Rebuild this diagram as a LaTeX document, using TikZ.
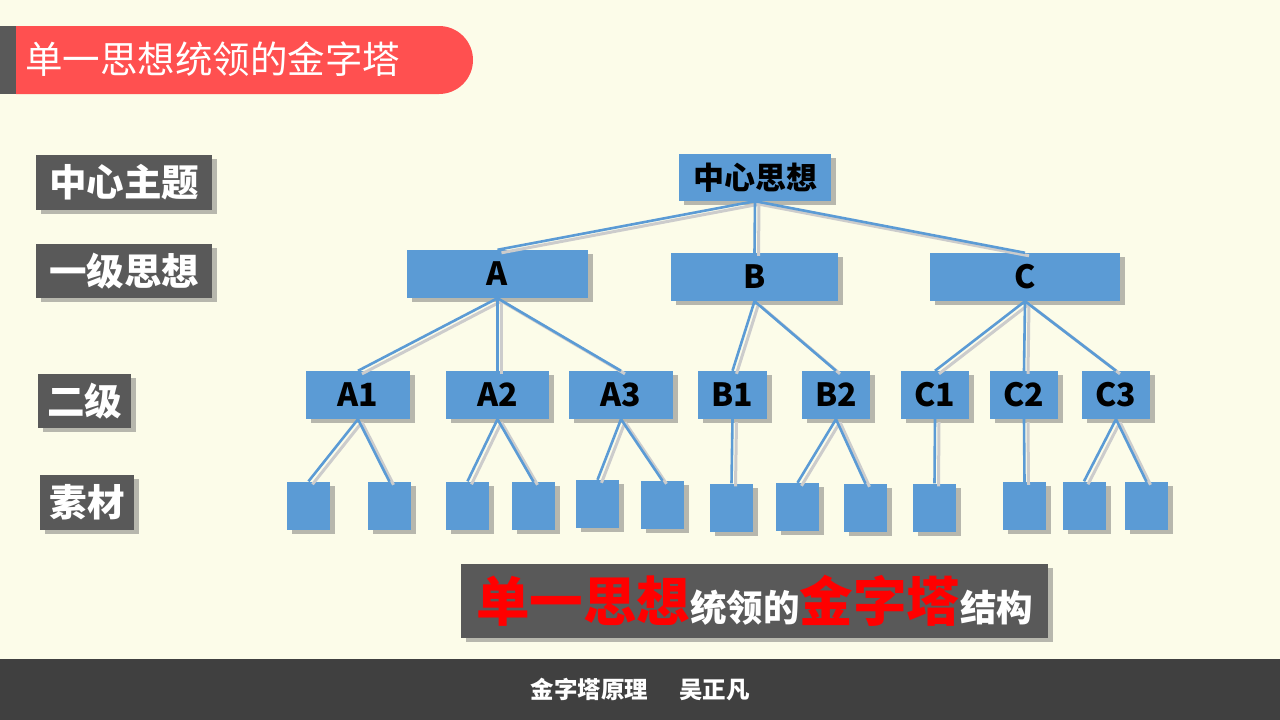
\documentclass[tikz,border=0pt]{standalone}
\usepackage{fontspec}
\setmainfont{Noto Sans CJK SC}
\usetikzlibrary{shadows}

\definecolor{paper}{HTML}{FCFCE9}
\definecolor{bannerred}{HTML}{FF5050}
\definecolor{labelgrey}{HTML}{595959}
\definecolor{footgrey}{HTML}{404040}
\definecolor{ideablue}{HTML}{5B9BD5}
\definecolor{hotred}{HTML}{FF0000}

\newcommand{\pxfont}[1]{\fontsize{#1}{#1}\selectfont}

\begin{document}
\begin{tikzpicture}[
    x=1pt, y=-1pt,                          % <- one unit = one pixel, y runs down
    boxshadow/.style={drop shadow={shadow xshift=5pt, shadow yshift=-4pt, fill=black!55, opacity=0.5}},
    tag/.style={fill=labelgrey, text=white, font=\pxfont{37.5}\bfseries, inner sep=0pt, boxshadow},
    idea/.style={fill=ideablue, text=black, font=\pxfont{32}\bfseries, inner sep=0pt, minimum height=48pt, boxshadow},
    leaf/.style={fill=ideablue, minimum width=43pt, minimum height=48pt, inner sep=0pt, boxshadow},
    link/.style={draw=ideablue, line width=2.6pt,
      preaction={draw=black!20, line width=3pt, transform canvas={xshift=4pt, yshift=-3pt}}},
  ]

  % ---------- page, banner, footer ----------
  \fill[paper] (0,0) rectangle (1280,720);
  \useasboundingbox (0,0) rectangle (1280,720);
  \fill[bannerred] (16,26) -- (439,26) arc[start angle=-90, end angle=90, radius=34] -- (16,94) -- cycle;
  \fill[labelgrey] (0,26) rectangle (16,94);
  \node[text=white, font=\pxfont{37.5}, anchor=west, inner sep=0pt] (title) at (25,59) {单一思想统领的金字塔};
  \fill[footgrey] (0,659) rectangle (1280,720);
  \node[text=white, font=\pxfont{23.5}\bfseries, inner sep=0pt] (footer) at (640,690)
  {金字塔原理\hspace*{31pt}吴正凡};

  % ---------- level tags (left column) ----------
  \node[tag, minimum width=176pt, minimum height=55pt] (tagtop)  at (124,182.5) {中心主题};
  \node[tag, minimum width=176pt, minimum height=54pt] (tagone)  at (124,271)   {一级思想};
  \node[tag, minimum width=93pt,  minimum height=54pt] (tagtwo)  at (84.5,401)  {二级};
  \node[tag, minimum width=94pt,  minimum height=55pt] (tagleaf) at (87,502.5)  {素材};

  % ---------- pyramid: top and first level ----------
  \node[idea, minimum width=152pt, minimum height=47pt, font=\pxfont{31}\bfseries] (top) at (755,177.5) {中心思想};
  \node[idea, minimum width=181pt] (A) at (497.5,274) {A};
  \node[idea, minimum width=167pt] (B) at (754.5,277) {B};
  \node[idea, minimum width=190pt] (C) at (1025,277)  {C};

  % ---------- second level ----------
  \foreach \n/\x/\w in {A1/358/104, A2/497.5/103, A3/621/104, B1/732.5/69,
    B2/836/68, C1/935/68, C2/1024/68, C3/1116/68}
  \node[idea, minimum width=\w pt] (\n) at (\x,395) {\n};

  % ---------- material boxes ----------
  \foreach \n/\x/\y in {l1/308.5/505.5, l2/389.5/506, l3/467.5/505.5, l4/533.5/506,
    l5/597.5/504, l6/662.5/505, l7/731.5/507.5, l8/797.5/507, l9/865.5/508,
    l10/934.5/507.5, l11/1024.5/506, l12/1084/505.5, l13/1146.5/506}
  \node[leaf] (\n) at (\x,\y) {};

  % ---------- connectors ----------
  \foreach \p/\c in {top/A, top/B, top/C,
    A/A1, A/A2, A/A3, B/B1, B/B2, C/C1, C/C2, C/C3,
    A1/l1, A1/l2, A2/l3, A2/l4, A3/l5, A3/l6, B1/l7, B2/l8, B2/l9,
    C1/l10, C2/l11, C3/l12, C3/l13}
  \draw[link] (\p.south) -- (\c.north);

  % ---------- caption box ----------
  \node[fill=labelgrey, minimum width=587pt, minimum height=74pt, inner sep=0pt, boxshadow,
    font=\bfseries] (caption) at (754.5,601)
  {{\color{hotred}\pxfont{53.5}单一思想}{\color{white}\pxfont{36.5}统领的}%
    {\color{hotred}\pxfont{53.5}金字塔}{\color{white}\pxfont{36.5}结构}};

\end{tikzpicture}
\end{document}
